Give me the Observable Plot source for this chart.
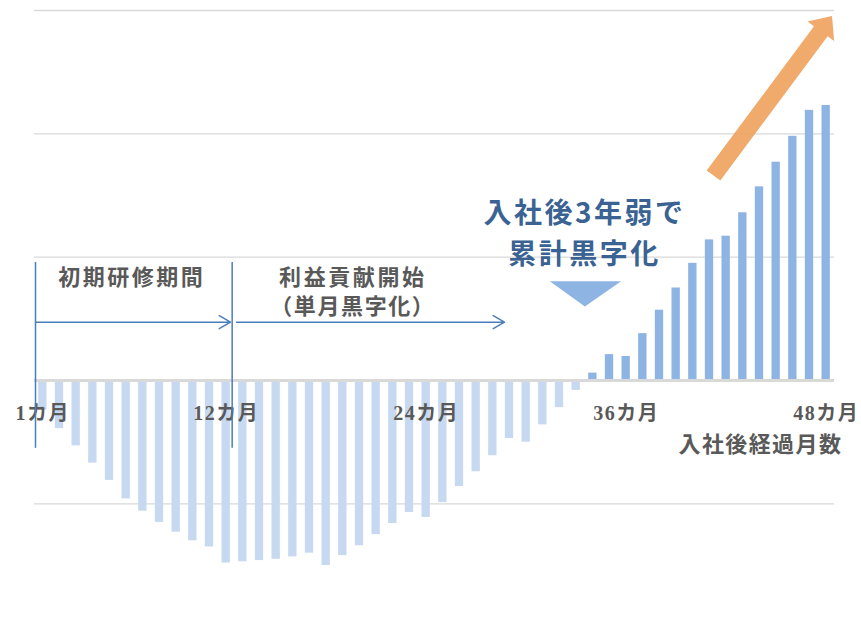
<!DOCTYPE html>
<html>
<head>
<meta charset="utf-8">
<script src="https://cdn.jsdelivr.net/npm/d3@7"></script>
<script src="https://cdn.jsdelivr.net/npm/@observablehq/plot@0.6"></script>
<style>
  html, body { margin: 0; padding: 0; background: #ffffff; }
  #chart { width: 861px; height: 622px; }
</style>
</head>
<body>
<div id="chart"></div>
<script>
// ---- Data ----
const months = [1,2,3,4,5,6,7,8,9,10,11,12,13,14,15,16,17,18,19,20,21,22,23,24,
                25,26,27,28,29,30,31,32,33,34,35,36,37,38,39,40,41,42,43,44,45,46,47,48];
const profit = [-24,-39,-53,-67,-81,-96,-106,-115,-123,-130,-135,-148,
                -147,-146,-145,-143,-140,-150,-142,-134,-125,-116,-107,-111,
                -99,-86,-74,-61,-47,-50,-36,-22,-8,6,21,19.5,
                38,57,75,95,114,117,136,157,177,198,219,223];
const tickMonths = [1, 12, 24, 36, 48];
const tickLabels = ["1カ月", "12カ月", "24カ月", "36カ月", "48カ月"];
const gridValues = [-100, 100, 200, 300];
const xTitle = "入社後経過月数";
const phase1 = "初期研修期間";
const phase2a = "利益貢献開始";
const phase2b = "（単月黒字化）";
const callout = "入社後3年弱で\n累計黒字化";

const bars = months.map((m, i) => ({m, v: profit[i]}));
const ticks = tickMonths.map((m, i) => ({m, label: tickLabels[i]}));

const cjk = "'Noto Sans CJK JP', 'Noto Sans', sans-serif";
const tickFont = "'Liberation Serif', 'Noto Sans CJK JP', serif";
const gray = "#595959";
const blueLine = "#4a7ebb";

const chart = Plot.plot({
  width: 861,
  height: 622,
  marginLeft: 34,
  marginRight: 27,
  marginTop: 10,
  marginBottom: 57,
  x: {type: "linear", domain: [0.5, 48.5], axis: null},
  y: {domain: [-150, 300], axis: null},
  marks: [
    Plot.ruleY(gridValues, {stroke: "#d9d9d9", strokeWidth: 1.3}),
    Plot.rectY(bars, {
      x1: d => d.m - 0.25,
      x2: d => d.m + 0.25,
      y1: 0,
      y2: "v",
      fill: d => d.v < 0 ? "#c6d9f1" : "#8eb4e3"
    }),
    Plot.ruleY([0], {stroke: "#d9d9d9", strokeWidth: 3}),
    // tick labels along the zero line
    Plot.text(ticks, {
      x: "m", y: () => -27, text: "label",
      fontFamily: tickFont, fontWeight: "bold", fontSize: 20, fill: gray
    }),
    Plot.text([xTitle], {
      x: () => 48.97, y: () => -52.3, text: d => d, textAnchor: "end",
      fontFamily: cjk, fontWeight: "bold", fontSize: 22, fill: gray
    }),
    // phase markers
    Plot.ruleX([0.56, 12.36], {y1: -55, y2: 95.7, stroke: blueLine, strokeWidth: 1.5}),
    Plot.arrow([{a: 0.56, b: 12.26}, {a: 12.62, b: 28.7}], {
      x1: "a", x2: "b", y1: () => 47.3, y2: () => 47.3,
      stroke: blueLine, strokeWidth: 1.5, headLength: 13, headAngle: 60
    }),
    Plot.text([phase1], {
      x: () => 6.33, y: () => 83.5, text: d => d,
      fontFamily: cjk, fontWeight: "bold", fontSize: 22, fill: gray
    }),
    Plot.text([phase2a, phase2b], {
      x: () => 19.6, y: (d, i) => i === 0 ? 83.5 : 59.3, text: d => d,
      fontFamily: cjk, fontWeight: "bold", fontSize: 22, fill: gray
    }),
    // callout
    Plot.text([callout], {
      x: () => 33.5, y: () => 122, text: d => d, lineHeight: 41 / 28,
      fontFamily: cjk, fontWeight: "bold", fontSize: 28, fill: "#3a6393"
    }),
    Plot.line([{x: 31.42, y: 80.5}, {x: 35.70, y: 80.5}, {x: 33.52, y: 60.0}], {
      x: "x", y: "y", fill: "#8eb4e3", stroke: "none", curve: "linear-closed"
    }),
    // big orange growth arrow
    Plot.line([
      {x: 40.83, y: 170.3}, {x: 47.27, y: 287.2}, {x: 46.88, y: 291.1},
      {x: 48.35, y: 295.5}, {x: 48.48, y: 275.2}, {x: 48.09, y: 279.1},
      {x: 41.65, y: 162.2}
    ], {
      x: "x", y: "y", fill: "#ed9d56", fillOpacity: 0.87, stroke: "none", curve: "linear-closed"
    })
  ]
});

// letter spacing to match the reference's wider text set
const spacing = new Map([
  [phase1, 2.5], [phase2a, 2.6], [phase2b, 1.6], [xTitle, 1.4]
]);
chart.querySelectorAll("text").forEach(t => {
  const s = t.textContent;
  if (spacing.has(s)) t.setAttribute("letter-spacing", spacing.get(s));
  else if (tickLabels.includes(s)) t.setAttribute("letter-spacing", 1.5);
  else if (s.startsWith("入社後3")) t.setAttribute("letter-spacing", 2.5);
});
document.getElementById("chart").appendChild(chart);
</script>
</body>
</html>
